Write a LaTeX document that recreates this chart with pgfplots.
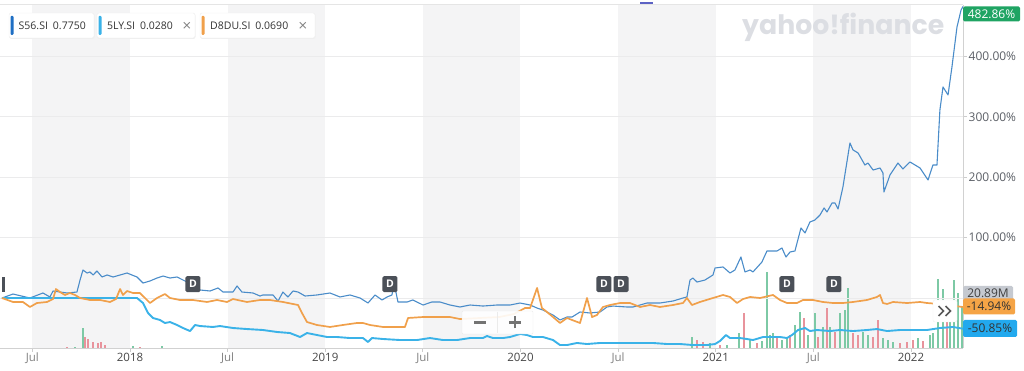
\documentclass[border=0pt]{standalone}
\usepackage{pgfplots}
\pgfplotsset{compat=1.18}
\usepackage{graphicx}
\usepackage{fontspec}
\setmainfont{Open Sans}
\newfontfamily\wmfont{Poppins}
\newfontfamily\symfont{DejaVu Sans}
\definecolor{sfs}{HTML}{4A8CC9}
\definecolor{sfsleg}{HTML}{1F6FC4}
\definecolor{lys}{HTML}{3AB2E8}
\definecolor{ddu}{HTML}{F0A04B}
\definecolor{band}{HTML}{F4F4F5}
\definecolor{gridc}{HTML}{EBEBEC}
\definecolor{volg}{HTML}{7DC9A5}
\definecolor{volr}{HTML}{E8939C}
\definecolor{dmark}{HTML}{4B5058}
\definecolor{lab}{HTML}{5B5F66}
\definecolor{tagg}{HTML}{1FA463}
\definecolor{taggrey}{HTML}{C5C9D0}
\definecolor{tago}{HTML}{F5A446}
\definecolor{tagc}{HTML}{22A9EE}
\definecolor{wm}{HTML}{DCDEE3}
\definecolor{navc}{HTML}{5C62C4}
\begin{document}
\begin{tikzpicture}[x=1pt,y=1pt]
\useasboundingbox (0,0) rectangle (1024,371);
% ---------- volume axis (with background bands) ----------
\begin{axis}[at={(0pt,23pt)}, anchor=south west, scale only axis,
  width=963pt, height=343pt, xmin=-7.99, xmax=51.2, ymin=0, ymax=175,
  hide axis, clip=true]
  \fill[band] (axis cs:-6,0) rectangle (axis cs:0,175);
  \fill[band] (axis cs:6,0) rectangle (axis cs:12,175);
  \fill[band] (axis cs:18,0) rectangle (axis cs:24,175);
  \fill[band] (axis cs:30,0) rectangle (axis cs:36,175);
  \fill[band] (axis cs:42,0) rectangle (axis cs:48,175);
  \addplot[ycomb, draw=volg, line width=1.3pt] coordinates {
    (-3.38,0.5) (-2.89,10.2) (0.18,1.0) (1.97,1.0) (34.54,5.6) (35.65,2.6)
    (36.69,1.5) (37.43,7.7) (38.11,4.1) (38.84,3.6) (39.15,38.8) (39.34,6.6)
    (39.52,7.7) (40.07,4.1) (40.38,5.1) (40.87,11.7) (41.18,18.4) (41.67,6.6)
    (42.10,17.9) (42.59,10.7) (43.02,10.7) (43.64,17.9) (43.95,19.4) (44.13,30.6)
    (45.05,8.2) (45.36,6.6) (46.28,5.1) (46.59,4.1) (46.90,3.1) (48.43,5.1)
    (49.17,6.6) (49.35,7.7) (49.66,35.2) (49.97,30.1) (50.40,23.0) (50.65,34.7)
    (50.89,28.1) (51.14,20.9)};
  \addplot[ycomb, draw=volr, line width=1.3pt] coordinates {
    (-3.87,0.5) (-2.77,5.6) (-2.58,4.6) (-2.27,3.1) (-1.97,2.6) (-1.78,3.1)
    (-1.54,1.5) (0.61,0.5) (34.85,4.1) (35.22,3.1) (36.26,1.5) (37.74,17.9)
    (38.54,2.6) (39.77,5.1) (40.57,6.6) (41.43,15.3) (42.29,5.6) (42.84,20.4)
    (43.33,8.2) (44.44,7.7) (44.75,6.6) (45.67,5.6) (45.97,14.3) (47.33,2.6)
    (47.76,3.1) (48.12,4.1) (48.74,3.6) (50.22,15.8)};
\end{axis}
% ---------- price axis ----------
\begin{axis}[at={(0pt,23pt)}, anchor=south west, scale only axis,
  width=963pt, height=343pt, xmin=-7.99, xmax=51.2, ymin=-82.8, ymax=485.3,
  axis x line*=bottom, axis y line*=right,
  axis line style={draw=black!18, line width=0.8pt},
  xtick={-6,0,6,12,18,24,30,36,42,48},
  xticklabels={\textcolor{black!50}{Jul},\textcolor{black!72}{2018},\textcolor{black!50}{Jul},\textcolor{black!72}{2019},\textcolor{black!50}{Jul},\textcolor{black!72}{2020},\textcolor{black!50}{Jul},\textcolor{black!72}{2021},\textcolor{black!50}{Jul},\textcolor{black!72}{2022}},
  ytick={0,100,200,300,400},
  yticklabels={,100.00\%,200.00\%,300.00\%,400.00\%},
  ymajorgrids, grid style={draw=gridc, line width=0.8pt},
  tick align=outside, major tick length=4pt,
  tick style={draw=black!20, line width=0.8pt},
  xticklabel style={font=\fontsize{11.5}{13}\selectfont, inner sep=1pt},
  yticklabel style={font=\fontsize{12}{13}\selectfont, text=lab, inner sep=1.5pt},
  clip=true]
  % S56.SI
  \addplot[draw=sfs, line width=1.1pt, line join=round] coordinates {
    (-7.87,0) (-7.19,6.6) (-6.15,0) (-5.35,8.3) (-4.92,1.7) (-4.73,11.6) (-4.30,9.9)
    (-3.87,8.3) (-3.26,9.9) (-3.07,29.8) (-2.89,46.4) (-2.64,41.4) (-2.46,43.1)
    (-2.27,38.1) (-2.03,44.7) (-1.72,34.8) (-1.41,38.1) (-1.04,34.8) (-0.61,38.1)
    (-0.18,41.4) (0.12,38.1) (0.43,34.8) (0.80,24.8) (1.23,28.2) (1.66,33.1)
    (2.03,36.4) (2.46,33.1) (2.89,34.8) (3.26,29.8) (3.87,21.5) (4.30,13.3)
    (4.92,11.6) (5.41,16.6) (5.72,9.9) (6.33,9.9) (6.58,19.9) (6.88,9.9) (7.56,8.3)
    (7.99,3.3) (8.17,5.0) (8.79,5.0) (9.10,-5.0) (9.40,9.9) (9.71,1.7) (10.02,11.6)
    (10.33,9.9) (10.76,3.3) (11.49,5.0) (12.29,8.3) (12.91,1.7) (13.52,5.0)
    (14.14,0) (14.63,-8.3) (15.06,5.0) (15.49,-3.3) (15.80,1.7) (16.10,5.0)
    (16.23,24.8) (16.47,-6.6) (17.03,-6.6) (17.39,-3.3) (18.01,-11.6) (18.56,-6.6)
    (19.05,-6.6) (19.67,-11.6) (20.28,-14.9) (20.90,-11.6) (21.70,-13.3)
    (22.56,-11.6) (23.36,-11.6) (23.97,-8.3) (24.59,-11.6) (25.02,-16.6)
    (25.38,-19.9) (26.00,-28.2) (26.43,-36.4) (26.86,-31.5) (27.17,-31.5)
    (27.66,-23.2) (28.27,-24.8) (28.89,-23.2) (29.32,-14.9) (29.69,-13.3)
    (30.55,-14.9) (30.92,-14.9) (31.35,-11.6) (31.78,-8.3) (32.57,-8.3)
    (33.37,-5.0) (33.99,0) (34.23,1.7) (34.42,29.8) (34.60,33.1) (34.85,26.5)
    (35.34,29.8) (35.83,38.1) (35.96,49.7) (36.45,51.4) (36.88,41.4) (37.18,46.4)
    (37.55,67.9) (37.80,43.1) (38.11,46.4) (38.29,43.1) (38.84,59.6) (39.15,77.9)
    (39.77,77.9) (40.07,82.8) (40.32,67.9) (40.57,76.2) (40.87,77.9) (41.24,116.0)
    (41.49,107.7) (41.79,125.9) (42.10,129.2) (42.41,137.5) (42.66,149.1)
    (42.84,142.5) (43.15,157.4) (43.33,157.4) (43.52,147.4) (43.82,183.9)
    (44.25,256.8) (44.44,245.2) (44.75,240.2) (45.17,220.3) (45.36,223.6)
    (45.67,212.0) (46.10,215.3) (46.28,207.1) (46.34,175.6) (46.71,203.7)
    (47.20,223.6) (47.51,213.7) (47.94,225.3) (48.56,215.3) (49.05,195.5)
    (49.35,220.3) (49.60,220.3) (49.78,311.4) (49.97,349.5) (50.28,336.3)
    (50.52,382.7) (50.83,448.9) (51.08,477.0) (51.2,482.86)};
  % 5LY.SI
  \addplot[draw=lys, line width=1.9pt, line join=round] coordinates {
    (-7.87,0) (0.43,0) (0.80,-8.3) (1.11,-24.8) (1.41,-33.1) (1.84,-36.4)
    (2.15,-41.4) (2.46,-39.8) (2.89,-44.7) (3.26,-49.7) (3.69,-54.7) (4.00,-44.7)
    (4.30,-46.4) (5.10,-48.0) (5.53,-46.4) (6.33,-49.7) (7.19,-51.4) (8.17,-53.0)
    (9.04,-56.3) (9.83,-58.0) (10.45,-64.6) (10.88,-58.0) (11.49,-61.3)
    (12.11,-64.6) (12.72,-64.6) (13.52,-66.3) (14.32,-66.3) (14.63,-72.9)
    (14.87,-66.3) (15.55,-67.9) (16.60,-69.6) (17.64,-69.6) (18.44,-66.3)
    (19.24,-69.6) (20.10,-69.6) (20.90,-66.3) (21.70,-66.3) (21.94,-62.9)
    (22.31,-66.3) (22.93,-66.3) (23.36,-64.6) (23.97,-59.6) (24.40,-61.3)
    (24.77,-64.6) (25.38,-64.6) (26.00,-69.6) (26.43,-77.9) (26.86,-77.9)
    (27.47,-74.5) (28.09,-76.2) (28.89,-74.5) (29.69,-74.5) (30.55,-74.5)
    (31.35,-74.5) (32.14,-74.5) (33.01,-76.2) (33.80,-76.2) (34.60,-77.9)
    (35.46,-77.9) (35.96,-76.2) (36.26,-71.2) (36.63,-61.3) (36.88,-66.3)
    (37.49,-66.3) (37.92,-67.9) (38.29,-69.6) (38.91,-64.6) (39.34,-64.6)
    (39.95,-64.6) (40.38,-66.3) (40.69,-61.3) (41.06,-53.0) (41.49,-49.7)
    (41.79,-54.7) (42.22,-53.0) (43.02,-54.7) (43.64,-53.0) (44.44,-54.7)
    (45.30,-53.0) (45.91,-51.4) (46.53,-54.7) (47.33,-53.0) (48.12,-53.0)
    (48.99,-53.0) (49.78,-49.7) (50.58,-48.0) (51.2,-50.85)};
  % D8DU.SI
  \addplot[draw=ddu, line width=1.7pt, line join=round] coordinates {
    (-7.87,0) (-7.19,-6.6) (-6.58,-6.6) (-6.15,-14.9) (-5.72,-8.3) (-5.10,-6.6)
    (-4.73,-1.7) (-4.55,14.9) (-4.30,9.9) (-4.00,5.0) (-3.69,8.3) (-3.38,5.0)
    (-3.07,0) (-2.46,-3.3) (-1.84,-3.3) (-1.23,-6.6) (-0.86,-1.7) (-0.61,14.9)
    (-0.43,5.0) (-0.18,11.6) (0.18,8.3) (0.61,8.3) (0.92,0) (1.23,-8.3) (1.66,0)
    (2.15,6.6) (2.46,0) (3.07,-3.3) (3.87,-3.3) (4.73,-6.6) (5.35,-3.3) (5.96,-6.6)
    (6.33,-1.7) (7.19,-6.6) (7.99,-3.3) (8.60,-3.3) (9.40,-6.6) (10.33,-11.6)
    (10.57,-24.8) (10.88,-39.8) (11.49,-44.7) (12.29,-48.0) (13.09,-44.7)
    (13.95,-41.4) (14.32,-41.4) (14.75,-44.7) (15.55,-48.0) (16.41,-48.0)
    (16.90,-48.0) (17.09,-33.1) (18.01,-31.5) (18.87,-31.5) (19.67,-31.5)
    (20.28,-34.8) (21.5,-33.1) (22.7,-31.5) (23.6,-26.5) (24.28,-16.6)
    (24.59,-16.6) (25.02,16.6) (25.32,-16.6) (25.63,-23.2) (26.00,-31.5)
    (26.43,-41.4) (26.86,-33.1) (27.17,-36.4) (27.66,-41.4) (28.09,0)
    (28.40,-31.5) (28.70,-28.2) (29.07,-14.9) (29.50,-11.6) (30.12,-8.3)
    (30.73,-8.3) (31.35,-14.9) (31.96,-11.6) (32.57,-14.9) (33.37,-11.6)
    (33.99,-8.3) (34.23,0) (34.54,-11.6) (35.03,-6.6) (35.83,0) (36.45,5.0)
    (36.88,1.7) (37.31,-8.3) (37.68,-1.7) (38.11,1.7) (38.72,0) (39.52,5.0)
    (39.95,-3.3) (40.38,-8.3) (41.0,-8.3) (41.36,-3.3) (41.98,-3.3) (42.59,-6.6)
    (43.21,-8.3) (43.82,-8.3) (44.44,-6.6) (45.30,-3.3) (45.91,1.7) (46.10,5.0)
    (46.28,-8.3) (46.53,-9.9) (46.90,-6.6) (47.76,-8.3) (48.56,-6.6) (48.99,-8.3)
    (49.8,-10) (50.71,-13.3) (51.2,-14.94)};
  % dividend markers
  \addplot[only marks, mark=none, nodes near coords={\textbf{D}},
    nodes near coords style={anchor=center, fill=dmark, text=white,
      rounded corners=1.5pt, minimum width=15pt, minimum height=16pt,
      inner sep=0pt, font=\fontsize{10.5}{10.5}\selectfont}]
    coordinates {(3.87,23) (15.98,23) (29.13,23) (30.18,23) (40.38,23) (43.27,23)};
\end{axis}
% ---------- decorations ----------
\draw[black!10, line width=0.6pt] (0,366.5) -- (963,366.5);
\draw[navc, line width=2pt] (640,368) -- (653,368);
\fill[dmark] (2,79) rectangle (5,94);
% watermark
\node[anchor=west, inner sep=0pt] at (742,344) {\resizebox{202pt}{!}{\color{wm}\wmfont\bfseries yahoo!finance}};
% legend boxes
\begin{scope}[font=\fontsize{10.5}{12}\selectfont]
  \fill[black!6, rounded corners=2pt] (9.5,332) rectangle (94.5,357.5);
  \filldraw[draw=black!7, fill=white, rounded corners=2pt] (9,333) rectangle (94,358);
  \fill[sfsleg, rounded corners=1pt] (10.5,336) rectangle (13.5,355);
  \node[anchor=west, text=black!80, inner sep=0pt] at (18.5,345.5) {S56.SI\hspace{5pt}0.7750};
  \fill[black!6, rounded corners=2pt] (97.5,332) rectangle (195.5,357.5);
  \filldraw[draw=black!7, fill=white, rounded corners=2pt] (97,333) rectangle (195,358);
  \fill[lys, rounded corners=1pt] (98.5,336) rectangle (101.5,355);
  \node[anchor=west, text=black!80, inner sep=0pt] at (107,345.5) {5LY.SI\hspace{5pt}0.0280};
  \node[text=black!50, inner sep=0pt, font=\symfont\fontsize{12}{12}\selectfont] at (187,345.5) {×};
  \fill[black!6, rounded corners=2pt] (200.5,332) rectangle (315.5,357.5);
  \filldraw[draw=black!7, fill=white, rounded corners=2pt] (200,333) rectangle (315,358);
  \fill[ddu, rounded corners=1pt] (201.5,336) rectangle (204.5,355);
  \node[anchor=west, text=black!80, inner sep=0pt] at (210,345.5) {D8DU.SI\hspace{5pt}0.0690};
  \node[text=black!50, inner sep=0pt, font=\symfont\fontsize{12}{12}\selectfont] at (303,345.5) {×};
\end{scope}
% zoom widget
\filldraw[draw=black!8, fill=white, fill opacity=0.9, rounded corners=1pt] (462,37) rectangle (533,60);
\draw[black!8] (497.5,38) -- (497.5,59);
\draw[black!55, line width=2.2pt] (474,48.5) -- (486,48.5);
\draw[black!55, line width=2.2pt] (509,48.5) -- (521,48.5) (515,42.5) -- (515,54.5);
% scroll button
\filldraw[draw=black!6, fill=white, rounded corners=2pt] (933,49) rectangle (957,71);
\draw[black!65, line width=1.6pt, line join=miter] (938.5,65) -- (943.5,60) -- (938.5,55);
\draw[black!65, line width=1.6pt, line join=miter] (945.5,65) -- (950.5,60) -- (945.5,55);
% right-side tags
\begin{scope}[font=\fontsize{12}{12}\selectfont]
  \node[fill=tagg, text=white, rounded corners=1.5pt, minimum width=57pt, minimum height=15pt, inner sep=0pt] at (991.5,357) {482.86\%};
  \node[fill=taggrey, text=black!75, rounded corners=1.5pt, minimum width=50pt, minimum height=15pt, inner sep=0pt] at (988,77.5) {20.89M};
  \node[fill=tago, text=black!80, rounded corners=1.5pt, minimum width=52pt, minimum height=16pt, inner sep=0pt] at (989,64.5) {-14.94\%};
  \node[fill=tagc, text=black!80, rounded corners=1.5pt, minimum width=54pt, minimum height=17pt, inner sep=0pt] at (990,42.5) {-50.85\%};
\end{scope}
\end{tikzpicture}
\end{document}
